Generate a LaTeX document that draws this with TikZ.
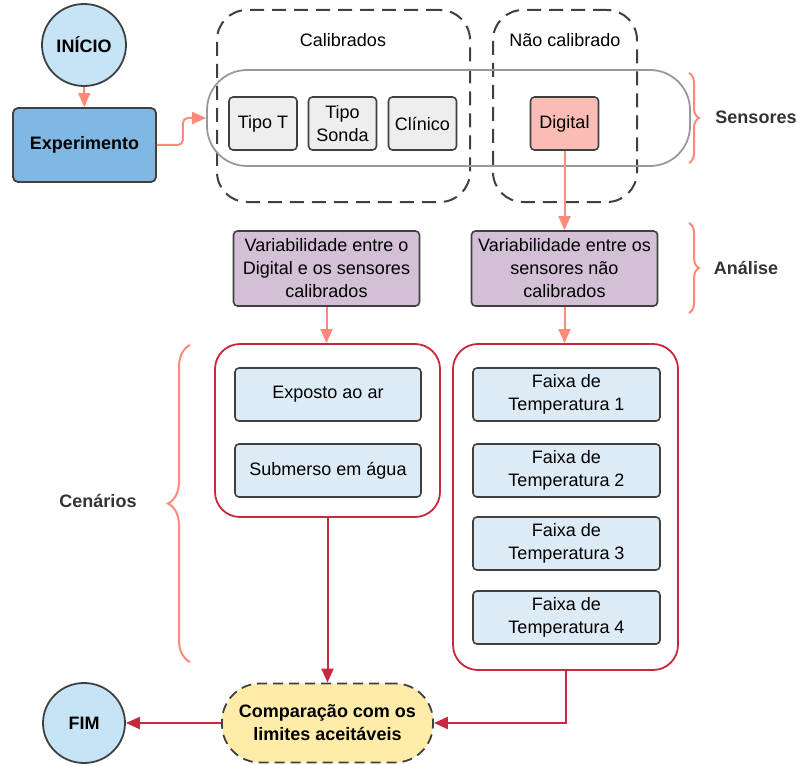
\documentclass[tikz,border=0pt]{standalone}
\usepackage{fontspec}
\setmainfont{Liberation Sans}
\usetikzlibrary{arrows.meta,positioning,shapes.geometric,decorations.pathreplacing}
\definecolor{startblue}{RGB}{197,229,247}
\definecolor{expblue}{RGB}{128,184,227}
\definecolor{sensgray}{RGB}{238,238,238}
\definecolor{digipink}{RGB}{251,188,181}
\definecolor{anapurple}{RGB}{211,191,214}
\definecolor{scenblue}{RGB}{221,235,247}
\definecolor{cmpyellow}{RGB}{255,236,168}
\definecolor{linesalmon}{RGB}{255,138,122}
\definecolor{linered}{RGB}{200,40,60}
\definecolor{edgegray}{RGB}{64,64,64}

\begin{document}
\begin{tikzpicture}[x=1pt, y=-1pt,
  every node/.style={font=\fontsize{18}{23}\selectfont},
  term/.style={ellipse, draw=edgegray, line width=1.8pt, fill=startblue, inner sep=0pt,
               minimum width=84pt, minimum height=82pt, font=\fontsize{18}{23}\selectfont\bfseries},
  expbox/.style={rectangle, rounded corners=5pt, draw=edgegray, line width=1.8pt, fill=expblue,
                 minimum width=143pt, minimum height=74pt, font=\fontsize{18}{23}\selectfont\bfseries},
  group/.style={rectangle, rounded corners=30pt, draw=edgegray, line width=2pt,
                dash pattern=on 14pt off 8pt, minimum height=192pt},
  sensrow/.style={rectangle, rounded corners=40pt, draw=gray!80, line width=1.8pt,
                  minimum width=483pt, minimum height=96pt},
  sensor/.style={rectangle, rounded corners=4pt, draw=edgegray, line width=1.6pt, fill=sensgray,
                 minimum width=68pt, minimum height=53pt, align=center, inner sep=0pt},
  analysis/.style={rectangle, rounded corners=4pt, draw=edgegray, line width=1.6pt, fill=anapurple,
                   minimum width=186pt, minimum height=75pt, align=center, inner sep=0pt},
  scenario/.style={rectangle, rounded corners=25pt, draw=linered, line width=1.8pt, minimum width=225pt},
  case/.style={rectangle, rounded corners=4pt, draw=edgegray, line width=1.6pt, fill=scenblue,
               minimum width=187pt, minimum height=53pt, align=center, inner sep=0pt},
  compare/.style={rectangle, rounded corners=38pt, draw=edgegray, line width=1.8pt, fill=cmpyellow,
                  dash pattern=on 10pt off 6pt, minimum width=211pt, minimum height=79pt,
                  align=center, font=\fontsize{18}{23}\selectfont\bfseries},
  tag/.style={font=\fontsize{18}{23}\selectfont\bfseries, text=black!80},
  bracesty/.style={decorate, decoration={brace, amplitude=#1}, draw=linesalmon, line width=2pt},
  arr/.style={-{Triangle[length=14pt,width=12pt]}, line width=2pt, draw=linesalmon},
  redarr/.style={-{Triangle[length=14pt,width=12pt]}, line width=2pt, draw=linered},
]
\useasboundingbox (0,0) rectangle (798,765);

% start and experiment
\node[term] (ini) at (84,45) {INÍCIO};
\node[expbox] (exp) at (84.5,145) {Experimento};

% sensor groups
\node[group, minimum width=253pt] (cal) at (343.5,106) {};
\node[group, minimum width=144pt] (ncal) at (565,106) {};
\node (caltxt) at (343,40) {Calibrados};
\node (ncaltxt) at (565,40) {Não calibrado};
\node[sensrow] (sens) at (448.5,118) {};
\node[sensor] (tipot) at (263,123.5) {Tipo T};
\node[sensor] (sonda) at (342.5,123.5) {Tipo\\Sonda};
\node[sensor] (clin) at (422.5,123.5) {Clínico};
\node[sensor, fill=digipink] (digi) at (564.5,123.5) {Digital};

% analysis
\node[analysis] (varc) at (326.5,268.5) {Variabilidade entre o\\Digital e os sensores\\calibrados};
\node[analysis] (varn) at (564.5,268.5) {Variabilidade entre os\\sensores não\\calibrados};

% scenarios
\node[scenario, minimum height=173pt] (scl) at (327.5,430.5) {};
\node[scenario, minimum height=326pt] (scr) at (565.5,507) {};
\node[case, minimum width=186pt] (ar) at (328,394.5) {Exposto ao ar};
\node[case, minimum width=186pt] (agua) at (328,470.5) {Submerso em água};
\node[case] (fx1) at (566.5,394.5) {Faixa de\\Temperatura 1};
\node[case] (fx2) at (566.5,470.5) {Faixa de\\Temperatura 2};
\node[case] (fx3) at (566.5,543.5) {Faixa de\\Temperatura 3};
\node[case] (fx4) at (566.5,617.5) {Faixa de\\Temperatura 4};

% end
\node[compare] (cmp) at (327.5,723) {Comparação com os\\limites aceitáveis};
\node[term, minimum width=82pt, minimum height=80pt] (fim) at (84,723) {FIM};

% braces and their labels
\draw[bracesty=10pt] (689,73) -- (689,163);
\draw[bracesty=10pt] (689,223) -- (689,313);
\draw[bracesty=22pt] (190,662) -- (190,345);
\node[tag] (lsens) at (756,117) {Sensores};
\node[tag] (lana) at (746,268) {Análise};
\node[tag] (lcen) at (98,501) {Cenários};

% connectors
\draw[arr] (ini) -- (exp);
\draw[arr, rounded corners=5pt] (exp.east) -- ++(26,0) |- (sens.west);
\draw[arr] (digi.south) -- (varn.north);
\draw[arr] (varc.south) -- (varc.south |- scl.north);
\draw[arr] (varn.south) -- (varn.south |- scr.north);
\draw[redarr] (scl.south) -- (scl.south |- cmp.north);
\draw[redarr] (scr.south) |- (cmp.east);
\draw[redarr] (cmp.west) -- (fim.east);
\end{tikzpicture}
\end{document}
